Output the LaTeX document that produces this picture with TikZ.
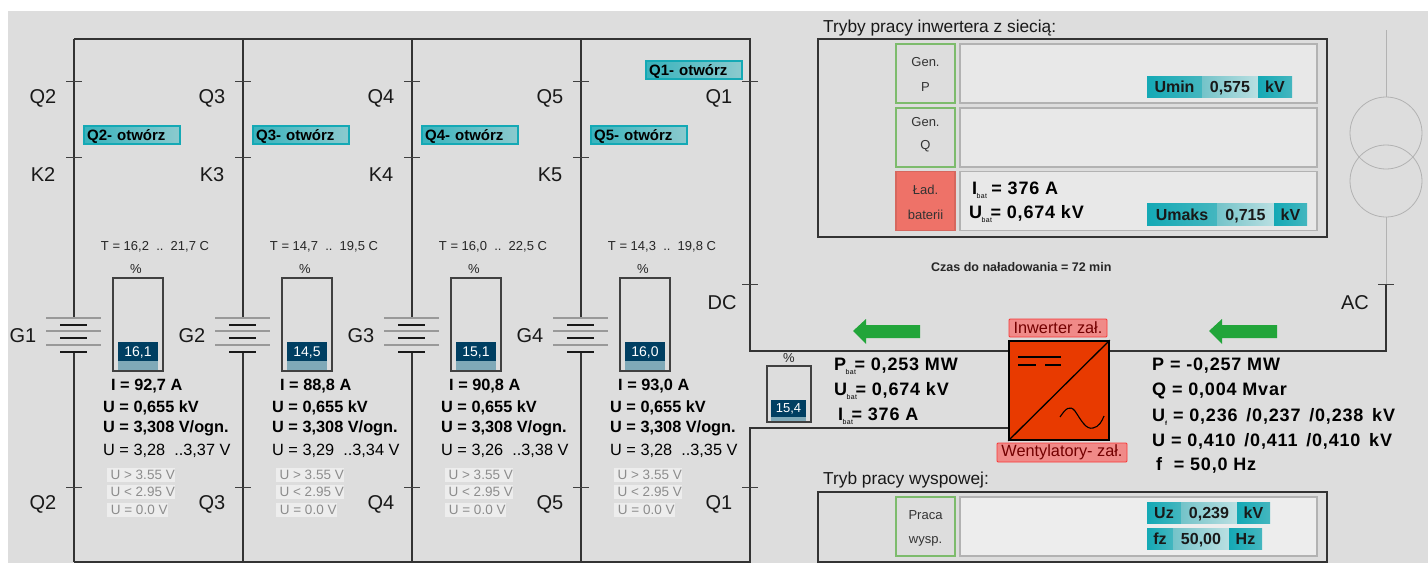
\documentclass[tikz,border=0pt]{standalone}
\usepackage{fontspec}
\setmainfont{Liberation Sans}
\newfontfamily\widefont[LetterSpace=4.5]{Liberation Sans}
\usetikzlibrary{positioning}
\usetikzlibrary{calc}
\definecolor{panelgray}{HTML}{DDDDDD}
\definecolor{btnteal}{HTML}{14A9B5}
\definecolor{btnlight}{HTML}{8CCACE}
\definecolor{socdark}{HTML}{003F62}
\definecolor{soclight}{HTML}{7FA9B8}
\definecolor{invred}{HTML}{E83A00}
\definecolor{tagred}{HTML}{F08A88}
\definecolor{ladred}{HTML}{EE7268}
\definecolor{arrowgreen}{HTML}{22A53A}
\definecolor{modegreen}{HTML}{7DBB6C}
\newcommand{\fsz}[1]{\fontsize{#1}{#1}\selectfont}
\newcommand{\sbat}{\kern-0.5pt\raisebox{-4pt}{\fontsize{7}{7}\selectfont\mdseries bat}\kern-1.5pt}
\tikzset{
  bus/.style={draw=black!80,line width=1.2pt},
  tick/.style={draw=black!75,line width=0.9pt},
  longplate/.style={draw=black!40,line width=1.2pt},
  shortplate/.style={draw=black!90,line width=1.6pt},
  swlabel/.style={font=\fsz{20},text=black!90,yshift=-1.5pt},
  otworz/.style={draw=btnteal,line width=2.2pt,left color=btnteal!70!btnlight,right color=btnlight,
    font=\fsz{15}\bfseries,anchor=west,inner sep=0pt,minimum width=96pt,minimum height=18pt,
    text width=93pt,align=left,text height=13pt,text depth=2.4pt},
  temp/.style={font=\fsz{13},text=black!85,yshift=-1pt},
  socframe/.style={draw=black!75,line width=1.2pt,inner sep=0pt},
  socval/.style={fill=socdark,text=white,font=\fsz{14},inner sep=0pt,text height=11pt,text depth=2pt},
  meas/.style={font=\fsz{16.3}\bfseries,anchor=west,inner sep=0pt,yshift=-1.5pt},
  measthin/.style={font=\fsz{16.3},anchor=west,inner sep=0pt,yshift=-1.5pt},
  alarm/.style={fill=black!7,text=black!45,font=\fsz{13.5},anchor=west,inner sep=0pt,minimum height=14pt},
  wide/.style={font=\widefont\fsz{18}\bfseries,anchor=west,inner sep=0pt,yshift=-1.5pt},
  heading/.style={font=\fsz{17.3},text=black!90,anchor=west,inner sep=0pt,yshift=-1pt},
  frm/.style={draw=black!80,line width=1.3pt,inner sep=0pt},
  panel/.style={draw=black!30,line width=1.2pt,fill=black!9,inner sep=0pt,minimum width=357pt},
  modebtn/.style={draw=modegreen,line width=1.2pt,fill=panelgray,inner sep=0pt,minimum width=59pt,minimum height=59pt},
  modetxt/.style={font=\fsz{13},text=black!80,inner sep=0pt},
  valfill/.style={left color=btnteal,right color=btnteal!60!btnlight},
  valmid/.style={left color=btnlight!80!btnteal,right color=btnlight!60!white},
  valtxt/.style={font=\fsz{16}\bfseries,inner sep=0pt,text=black!90,text height=13pt,text depth=1pt},
  tag/.style={draw=red!60!tagred,line width=0.8pt,fill=tagred,text=red!45!black,font=\fsz{16.3},inner sep=0pt,rounded corners=1pt},
  greenarrow/.style={fill=arrowgreen,draw=none},
}
\newcommand{\valbox}[9]{%
  \fill[valfill] (#1,#5) rectangle (#2,#6);
  \fill[valmid] (#2,#5) rectangle (#3,#6);
  \fill[valfill] (#3,#5) rectangle (#4,#6);
  \node[valtxt] (#7a) at ({(#1+#2)/2},{(#5+#6)/2}) {#7};
  \node[valtxt] (#7b) at ({(#2+#3)/2},{(#5+#6)/2}) {#8};
  \node[valtxt] (#7c) at ({(#3+#4)/2},{(#5+#6)/2}) {#9};
}
\begin{document}
\begin{tikzpicture}[x=1pt,y=-1pt]

    \useasboundingbox (0,0) rectangle (1428,563);
    \fill[panelgray] (8,11) rectangle (1428,563);

    % battery strings
    \foreach \i/\x/\nq/\ng/\tmin/\tmax/\soc/\amp/\umin/\umax in {
        1/74/2/1/{16,2}/{21,7}/{16,1}/{92,7}/{3,28}/{3,37},
        2/243/3/2/{14,7}/{19,5}/{14,5}/{88,8}/{3,29}/{3,34},
        3/412/4/3/{16,0}/{22,5}/{15,1}/{90,8}/{3,26}/{3,38},
        4/581/5/4/{14,3}/{19,8}/{16,0}/{93,0}/{3,28}/{3,35}}{
      \coordinate (bt\i) at (\x,39);
      \coordinate (cu\i) at (\x,318);
      \coordinate (cd\i) at (\x,352);
      \coordinate (bb\i) at (\x,562);
      \draw[bus] (bt\i) -- (cu\i);
      \draw[bus] (cd\i) -- (bb\i);
      \draw[tick] ({\x-8},81) -- ({\x+8},81);
      \draw[tick] ({\x-8},157) -- ({\x+8},157);
      \draw[tick] ({\x-8},487) -- ({\x+8},487);
      \foreach \yy in {318,331,345}
        \draw[longplate] ({\x-28},\yy) -- ({\x+27},\yy);
      \foreach \yy in {325,338,352}
        \draw[shortplate] ({\x-14},\yy) -- ({\x+13},\yy);
      \node[swlabel] (qt\i) at ({\x-31},97) {Q\nq};
      \node[swlabel] (k\i) at ({\x-31},173) {K\nq};
      \node[swlabel] (qb\i) at ({\x-31},503) {Q\nq};
      \node[swlabel] (g\i) at ({\x-51},334) {G\ng};
      \node[otworz] (op\i) at ({\x+9},135) {\hspace{1.5pt}Q\nq- otwórz};
      \node[temp] (t\i) at ({\x+81},246) {T = \tmin\ \ ..\ \ \tmax\ C};
      \node[temp] (pc\i) at ({\x+62},268) {\%};
      \node[socframe,minimum width=50pt,minimum height=93pt] (bat\i) at ({\x+64},324.5) {};
      \node[socval,minimum width=40pt,minimum height=19pt] (soc\i) at ({\x+64},351.5) {\soc};
      \fill[soclight] ({\x+44},361) rectangle ({\x+84},370.4);
      \node[meas] (i\i) at ({\x+37},385) {I = \amp\ A};
      \node[meas] (uk\i) at ({\x+29},406) {U = 0,655 kV};
      \node[meas] (uo\i) at ({\x+29},427) {U = 3,308 V/ogn.};
      \node[measthin] (ur\i) at ({\x+29},449) {U = \umin\ \ ..\umax\ V};
      \node[alarm,minimum width=68pt] (ah\i) at ({\x+33},475) {\hspace{3pt}U > 3.55 V};
      \node[alarm,minimum width=68pt] (al\i) at ({\x+33},492) {\hspace{3pt}U < 2.95 V};
      \node[alarm,minimum width=61pt] (az\i) at ({\x+33},509.5) {\hspace{3pt}U = 0.0 V};
    }

    % main lines
    \coordinate (bt5) at (750,39);
    \coordinate (dca) at (750,351);
    \coordinate (dcb) at (750,428);
    \coordinate (bb5) at (750,562);
    \coordinate (aca) at (1386,351);
    \coordinate (acb) at (1008,428);
    \draw[bus] (bt1) -- (bt5) -- (dca) -- (aca) -- (1386,284);
    \draw[bus] (bb1) -- (bb5) -- (dcb) -- (acb);
    \foreach \yy in {81,284,487}
      \draw[tick] (742,\yy) -- (758,\yy);
    \draw[tick] (1378,284) -- (1394,284);
    \node[swlabel] (q1t) at (719,97) {Q1};
    \node[swlabel] (q1b) at (719,503) {Q1};
    \node[swlabel] (dc) at (722,301) {DC};
    \node[swlabel] (ac) at (1355,301) {AC};
    \node[otworz] (op5) at (645,70) {\hspace{1.5pt}Q1- otwórz};

    % transformer
    \draw[draw=black!30,line width=1pt] (1386,30) -- (1386,97);
    \draw[draw=black!30,line width=1pt] (1386,217) -- (1386,284);
    \draw[draw=black!30,line width=0.8pt] (1386,133) circle (36);
    \draw[draw=black!30,line width=0.8pt] (1386,181) circle (36);

    % grid modes
    \node[heading] (tryby) at (823,27) {Tryby pracy inwertera z siecią:};
    \node[frm,minimum width=509pt,minimum height=198pt] (grid) at (1072.5,138) {};
    \node[modebtn] (genp) at (925.5,73.5) {};
    \node[modebtn] (genq) at (925.5,137.5) {};
    \node[modebtn,fill=ladred,draw=ladred!90!black] (lad) at (925.5,201) {};
    \node[modetxt] (genpa) at (925.5,62) {Gen.};
    \node[modetxt] (genpb) at (925.5,87) {P};
    \node[modetxt] (genqa) at (925.5,122) {Gen.};
    \node[modetxt] (genqb) at (925.5,146) {Q};
    \node[modetxt] (lada) at (925.5,190) {Ład.};
    \node[modetxt] (ladb) at (925.5,215) {baterii};
    \node[panel,minimum height=59pt] (pnp) at (1138.5,73.5) {};
    \node[panel,minimum height=59pt] (pnq) at (1138.5,137.5) {};
    \node[panel,minimum height=59pt] (pnl) at (1138.5,201) {};
    \valbox{1147}{1202}{1258}{1292}{76}{97}{Umin}{0,575}{kV}
    \valbox{1147}{1217}{1274}{1307}{203}{225}{Umaks}{0,715}{kV}
    \node[wide] (ibatg) at (972,189) {I\sbat\ = 376 A};
    \node[wide] (ubatg) at (969,213) {U\sbat= 0,674 kV};
    \node[font=\fsz{12.5}\bfseries,text=black!85,anchor=west,inner sep=0pt] (czas) at (931,267) {Czas do naładowania = 72 min};

    % inverter
    \fill[greenarrow] (853,331) -- (866,319) -- (866,325) -- (920,325) -- (920,338) -- (866,338) -- (866,344) -- cycle;
    \fill[greenarrow] (1209,331) -- (1222,319) -- (1222,325) -- (1277,325) -- (1277,338) -- (1222,338) -- (1222,344) -- cycle;
    \node[tag,minimum width=98pt,minimum height=18pt] (invon) at (1058,328) {Inwerter zał.};
    \node[draw=black,line width=1.6pt,fill=invred,inner sep=0pt,minimum width=100pt,minimum height=99pt] (inv) at (1059,390.5) {};
    \node[tag,minimum width=130pt,minimum height=19pt] (fanon) at (1062,452.5) {Wentylatory- zał.};
    \draw[black,line width=1.3pt] (inv.south west) -- (inv.north east);
    \draw[black,line width=1.3pt] (1018,357) -- (1061,357);
    \draw[black,line width=1.3pt] (1018,365) -- (1036,365);
    \draw[black,line width=1.3pt] (1045,365) -- (1061,365);
    \draw[black,line width=1.1pt] (1060,417) .. controls (1066,408) and (1070,405) .. (1075,411) .. controls (1081,420) and (1086,430) .. (1093,428) .. controls (1099,427) and (1102,421) .. (1104,416);

    % battery bank
    \node[temp] (pcb) at (789,357) {\%};
    \node[socframe,minimum width=44pt,minimum height=56pt] (bank) at (789,394) {};
    \node[socval,minimum width=35pt,minimum height=17pt,font=\fsz{13}] (socb) at (788.5,408) {15,4};
    \fill[soclight] (771,416.5) rectangle (806,421);
    \node[wide] (pb) at (834,365) {P\sbat= 0,253 MW};
    \node[wide] (ub) at (834,390) {U\sbat= 0,674 kV};
    \node[wide] (ib) at (838,415) {I\sbat= 376 A};
    \node[wide] (pa) at (1152,364) {P = -0,257 MW};
    \node[wide] (qa) at (1152,389) {Q = 0,004 Mvar};
    \node[wide] (uf) at (1152,415) {U{\fontsize{6}{6}\selectfont\raisebox{-4pt}{f}}\ = 0,236\ \,/0,237\ \,/0,238\ \,kV};
    \node[wide] (ua) at (1152,440) {U = 0,410\ \,/0,411\ \,/0,410\ \,kV};
    \node[wide] (fa) at (1156,464) {f\ \ = 50,0 Hz};

    % island mode
    \node[heading] (tryb) at (823,479) {Tryb pracy wyspowej:};
    \node[frm,minimum width=509pt,minimum height=70pt] (isl) at (1072.5,527) {};
    \node[modebtn] (pracbtn) at (925.5,526.5) {};
    \node[modetxt] (praca) at (925.5,515) {Praca};
    \node[modetxt] (wysp) at (925.5,541) {wysp.};
    \node[panel,minimum height=59pt,fill=black!7] (pni) at (1138.5,526.5) {};
    \valbox{1147}{1181}{1237}{1270}{502}{523}{Uz}{0,239}{kV}
    \valbox{1147}{1173}{1229}{1262}{528}{549}{fz}{50,00}{Hz}

\end{tikzpicture}
\end{document}
